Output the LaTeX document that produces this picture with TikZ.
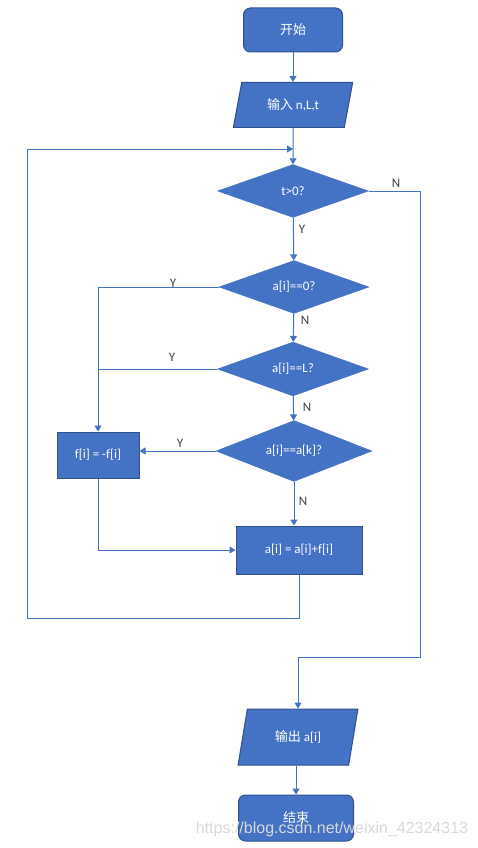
\documentclass[tikz,border=0pt]{standalone}
\usepackage{fontspec}
\setmainfont{Carlito}
\newfontfamily\cjk{Noto Sans CJK SC}
\newfontfamily\wmfont{Liberation Sans}
\usetikzlibrary{shapes.geometric,arrows.meta}
\definecolor{boxblue}{HTML}{4472C4}
\definecolor{boxedge}{HTML}{2F528F}
\definecolor{labelgray}{HTML}{404040}

\begin{document}
\begin{tikzpicture}[x=1pt, y=-1pt, font=\fontsize{13}{15}\selectfont,
  line/.style={draw=boxblue, line width=1pt},
  arr/.style={line, -{Triangle[length=6pt,width=7pt]}},
  terminal/.style={draw=boxedge, fill=boxblue, text=white, rounded corners=7pt, line width=1pt},
  process/.style={draw=boxedge, fill=boxblue, text=white, line width=1pt},
  decision/.style={diamond, aspect=2.8, inner sep=0pt, draw=boxblue, fill=boxblue, text=white},
  io/.style={trapezium, trapezium left angle=76, trapezium right angle=104, trapezium stretches=true, draw=boxedge, fill=boxblue, text=white, line width=1pt},
  yn/.style={text=labelgray}]
\useasboundingbox (0,0) rectangle (477,848);
\node[terminal, minimum width=99pt, minimum height=44pt] (start) at (293,30) {\cjk 开始};
\node[io, minimum width=120pt, minimum height=45pt] (input) at (293,105) {{\cjk 输入} n,L,t};
\node[decision, minimum width=151pt, minimum height=53pt] (d1) at (293,191) {t>0?};
\node[decision, minimum width=150pt, minimum height=53pt] (d2) at (294,287) {a[i]==0?};
\node[decision, minimum width=151pt, minimum height=54pt] (d3) at (293,369) {a[i]==L?};
\node[decision, minimum width=156pt, minimum height=61pt] (d4) at (294,451) {a[i]==a[k]?};
\node[process, minimum width=82pt, minimum height=46pt] (flip) at (98,455) {f[i] = -f[i]};
\node[process, minimum width=126pt, minimum height=48pt] (update) at (299,550) {a[i] = a[i]+f[i]};
\node[io, minimum width=120pt, minimum height=56pt] (output) at (298,737) {{\cjk 输出} a[i]};
\node[terminal, minimum width=115pt, minimum height=46pt] (stop) at (296,818) {\cjk 结束};
\coordinate (loopbl) at (27,618);
\coordinate (looptl) at (27,149);
\coordinate (join) at (293,149);
\coordinate (nturn) at (420,657);
\draw[arr] (start) -- (input);
\draw[arr] (input) -- (d1);
\draw[arr] (d1) -- (d2);
\draw[arr] (d2) -- (d3);
\draw[arr] (d3) -- (d4);
\draw[arr] (d4.south) -- (d4.south |- update.north);
\draw[arr] (d2.west) -| (flip.north);
\draw[line] (d3.west) -- (d3.west -| flip.north);
\draw[arr] (d4.west) -- (d4.west -| flip.east);
\draw[arr] (flip.south) |- (update.west);
\draw[arr] (update.south) |- (loopbl) -- (looptl) -- (join);
\draw[arr] (d1.east) -| (nturn) -| (output.north);
\draw[arr] (output.south -| stop.north) -- (stop.north);
\node[yn] (n1) at (396,183) {N};
\node[yn] (y1) at (302,229) {Y};
\node[yn] (y2) at (173,283) {Y};
\node[yn] (n2) at (305,320) {N};
\node[yn] (y3) at (172,357) {Y};
\node[yn] (n3) at (307,407) {N};
\node[yn] (y4) at (180,443) {Y};
\node[yn] (n4) at (303,501) {N};
\node[font=\wmfont\fontsize{16}{18}\selectfont, text=gray!30] (mark) at (332,829) {https://blog.csdn.net/weixin\_42324313};
\end{tikzpicture}
\end{document}
